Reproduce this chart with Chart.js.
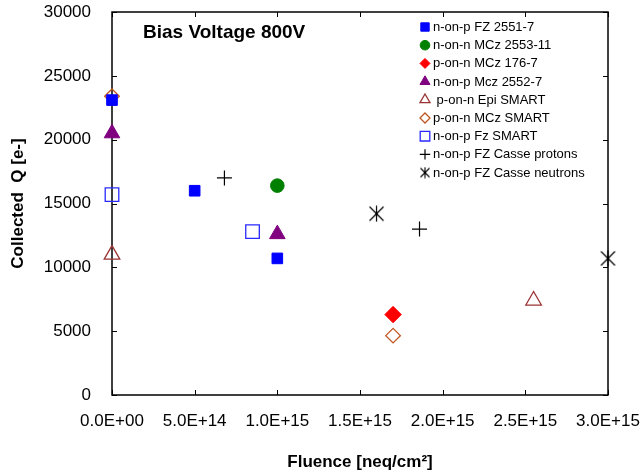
<!DOCTYPE html>
<html><head><meta charset="utf-8">
<script src="https://cdn.jsdelivr.net/npm/chart.js@4/dist/chart.umd.min.js"></script>
<style>html,body{margin:0;padding:0;background:#fff;}#wrap{width:644px;height:476px;}</style>
</head><body><div id="wrap"><canvas id="c" width="644" height="476"></canvas></div>
<script>
// ---- texts ----
const chartTitle = 'Bias Voltage 800V';
const xAxisTitle = 'Fluence [neq/cm²]';
const yAxisTitle = 'Collected  Q [e-]';
const xTickLabels = ['0.0E+00','5.0E+14','1.0E+15','1.5E+15','2.0E+15','2.5E+15','3.0E+15'];
const yTickLabels = ['0','5000','10000','15000','20000','25000','30000'];
const seriesNames = ['n-on-p FZ 2551-7','n-on-n MCz 2553-11','p-on-n MCz 176-7','n-on-p Mcz 2552-7',
  ' p-on-n Epi SMART','p-on-n MCz SMART','n-on-p Fz SMART','n-on-p FZ Casse protons','n-on-p FZ Casse neutrons'];

// ---- data (fluence in neq/cm^2, collected charge in e-) ----
const fz2551Fluence = [0, 5e14, 1e15];
const fz2551Q = [23100, 16000, 10700];
const mcz2553Fluence = [1e15];
const mcz2553Q = [16400];
const mcz176Fluence = [1.7e15];
const mcz176Q = [6300];
const mcz2552Fluence = [0, 1e15];
const mcz2552Q = [20500, 12600];
const epiSmartFluence = [0, 2.55e15];
const epiSmartQ = [11000, 7400];
const mczSmartFluence = [0, 1.7e15];
const mczSmartQ = [23400, 4650];
const fzSmartFluence = [0, 8.5e14];
const fzSmartQ = [15700, 12800];
const casseProtonFluence = [6.8e14, 1.86e15];
const casseProtonQ = [17000, 13000];
const casseNeutronFluence = [1.6e15, 3.0e15];
const casseNeutronQ = [14200, 10700];

function pts(xs, ys){ return xs.map((x,i)=>({x:x, y:ys[i]})); }

function makeStar(size, lw){
  const c = document.createElement('canvas'); c.width = size; c.height = size;
  const g = c.getContext('2d'); g.strokeStyle = '#000'; g.lineWidth = lw;
  const m = size/2, a = size/2 - 1.5;
  g.beginPath();
  g.moveTo(m-a, m-a); g.lineTo(m+a, m+a);
  g.moveTo(m+a, m-a); g.lineTo(m-a, m+a);
  g.moveTo(m, 0.5); g.lineTo(m, size-0.5);
  g.stroke();
  g.fillStyle = '#000'; g.fillRect(m-1, m-1, 2, 2);
  return c;
}
const starImg = makeStar(17, 1.2);
const starLegend = makeStar(12, 1.1);

const NONE = 'rgba(0,0,0,0)';
const styles = [
  {kind:'rect', r:7.5, fill:'#0000FF', stroke:'#0000FF', lw:1, lr:4.2},
  {kind:'circle', r:6.8, fill:'#008000', stroke:'#008000', lw:1, lr:4.8},
  {kind:'rectRot', r:8.2, fill:'#FF0000', stroke:'#FF0000', lw:1, lr:5},
  {kind:'triangle', r:9, fill:'#800080', stroke:'#800080', lw:1, lr:5.8},
  {kind:'triangle', r:9, fill:NONE, stroke:'#993333', lw:1.3, lr:5.8},
  {kind:'rectRot', r:7.3, fill:NONE, stroke:'#C0561F', lw:1.3, lr:5},
  {kind:'rect', r:9.6, fill:NONE, stroke:'#2A2AFF', lw:1.3, lr:4.8},
  {kind:'cross', r:7.5, fill:NONE, stroke:'#000', lw:1.2, lr:5.2},
  {kind:'star', r:8.5, fill:NONE, stroke:'#000', lw:1.2, lr:6}
];
const seriesData = [
  pts(fz2551Fluence, fz2551Q), pts(mcz2553Fluence, mcz2553Q), pts(mcz176Fluence, mcz176Q),
  pts(mcz2552Fluence, mcz2552Q), pts(epiSmartFluence, epiSmartQ), pts(mczSmartFluence, mczSmartQ),
  pts(fzSmartFluence, fzSmartQ), pts(casseProtonFluence, casseProtonQ), pts(casseNeutronFluence, casseNeutronQ)
];

const datasets = seriesData.map((d, i) => {
  const s = styles[i];
  return {
    label: seriesNames[i], data: d, showLine: false, clip: false,
    pointStyle: s.kind === 'star' ? starImg : s.kind,
    pointRadius: s.r, pointHoverRadius: s.r,
    pointBackgroundColor: s.fill, pointBorderColor: s.stroke, pointBorderWidth: s.lw
  };
});

function drawMarker(ctx, s, x, y, r){
  ctx.save();
  ctx.fillStyle = s.fill; ctx.strokeStyle = s.stroke; ctx.lineWidth = s.lw;
  ctx.beginPath();
  if (s.kind === 'rect') { const h = r; ctx.rect(x-h, y-h, 2*h, 2*h); }
  else if (s.kind === 'circle') { ctx.arc(x, y, r, 0, Math.PI*2); }
  else if (s.kind === 'rectRot') { ctx.moveTo(x-r,y); ctx.lineTo(x,y-r); ctx.lineTo(x+r,y); ctx.lineTo(x,y+r); ctx.closePath(); }
  else if (s.kind === 'triangle') { const w = r*0.866; ctx.moveTo(x, y-r); ctx.lineTo(x+w, y+r/2); ctx.lineTo(x-w, y+r/2); ctx.closePath(); }
  else if (s.kind === 'cross') { ctx.moveTo(x-r,y); ctx.lineTo(x+r,y); ctx.moveTo(x,y-r); ctx.lineTo(x,y+r); }
  else if (s.kind === 'star') { ctx.drawImage(starLegend, x - starLegend.width/2, y - starLegend.height/2); ctx.restore(); return; }
  if (s.kind !== 'cross') ctx.fill();
  ctx.stroke();
  ctx.restore();
}

const framePlugin = {
  id: 'frame',
  beforeDatasetsDraw(chart){
    const {ctx, chartArea:{left,right,top,bottom}, scales:{x, y}} = chart;
    ctx.save();
    ctx.strokeStyle = '#000'; ctx.lineWidth = 1.5;
    ctx.strokeRect(left, top, right-left, bottom-top);
    ctx.lineWidth = 1;
    ctx.beginPath();
    x.ticks.forEach(t => { const p = Math.round(x.getPixelForValue(t.value)) + 0.5;
      ctx.moveTo(p, bottom); ctx.lineTo(p, bottom-5); ctx.moveTo(p, top); ctx.lineTo(p, top+5); });
    y.ticks.forEach(t => { const p = Math.round(y.getPixelForValue(t.value)) + 0.5;
      ctx.moveTo(left, p); ctx.lineTo(left+5, p); ctx.moveTo(right, p); ctx.lineTo(right-5, p); });
    ctx.stroke();
    ctx.restore();
  },
  afterDraw(chart){
    const ctx = chart.ctx;
    ctx.save();
    ctx.fillStyle = '#000';
    ctx.font = 'bold 19px "Liberation Sans", Arial, sans-serif';
    ctx.textAlign = 'left'; ctx.textBaseline = 'alphabetic';
    ctx.fillText(chartTitle, 143, 38);
    ctx.font = '13px "Liberation Sans", Arial, sans-serif';
    ctx.textBaseline = 'middle';
    chart.data.datasets.forEach((ds, i) => {
      const yy = 27 + i * 18.2;
      drawMarker(ctx, styles[i], 425, yy, styles[i].lr);
      ctx.fillStyle = '#000';
      ctx.fillText(ds.label, 433, yy + 0.5);
    });
    ctx.restore();
  }
};

const FONT = '"Liberation Sans", Arial, sans-serif';
new Chart(document.getElementById('c'), {
  type: 'scatter',
  data: { datasets: datasets },
  plugins: [framePlugin],
  options: {
    responsive: false, animation: false, events: [],
    layout: { padding: { top: 12, right: 36, left: 0, bottom: 0 } },
    plugins: { legend: { display: false }, tooltip: { enabled: false }, title: { display: false } },
    scales: {
      x: {
        type: 'linear', min: 0, max: 3e15,
        afterFit(scale){ scale.height = 81; scale.paddingLeft = 0; scale.paddingRight = 0; },
        grid: { display: false }, border: { display: false },
        ticks: { stepSize: 5e14, autoSkip: false, maxRotation: 0, padding: 8, color: '#000',
          font: { family: FONT, size: 17 }, callback: (v, i) => xTickLabels[i] },
        title: { display: true, text: xAxisTitle, color: '#000', padding: { top: 0, bottom: 3 },
          font: { family: FONT, size: 17, weight: 'bold' } }
      },
      y: {
        type: 'linear', min: 0, max: 30000,
        afterFit(scale){ scale.width = 112; scale.paddingTop = 0; scale.paddingBottom = 0; },
        grid: { display: false }, border: { display: false },
        ticks: { stepSize: 5000, padding: 13, color: '#000',
          font: { family: FONT, size: 17 }, callback: (v, i) => yTickLabels[i] },
        title: { display: true, text: yAxisTitle, color: '#000', padding: { top: 8, bottom: 0 },
          font: { family: FONT, size: 17, weight: 'bold' } }
      }
    }
  }
});
</script>
</body></html>
